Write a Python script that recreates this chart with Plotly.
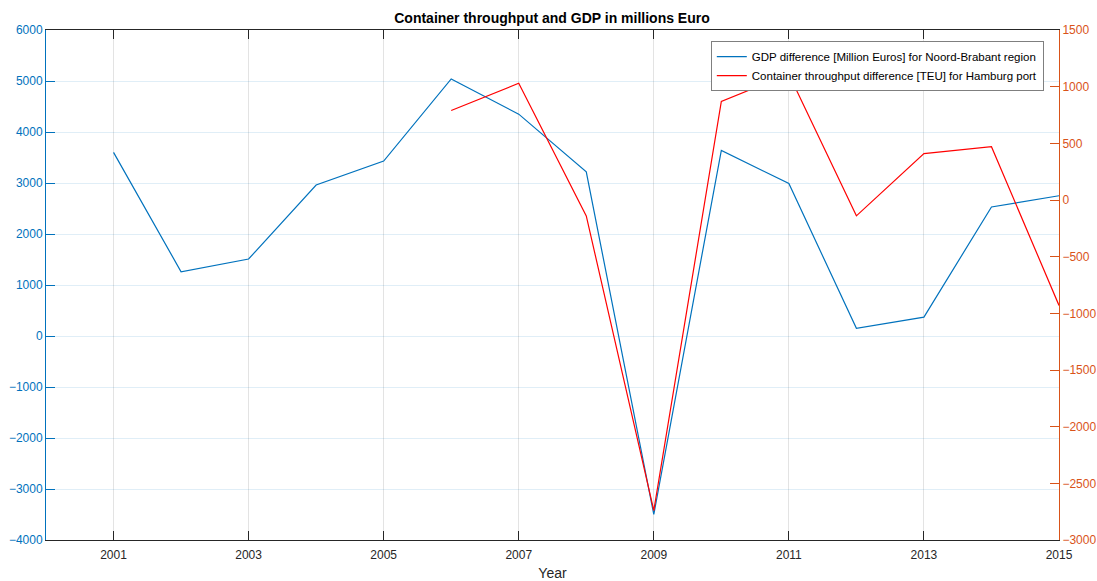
import plotly.graph_objects as go

years = [2001, 2002, 2003, 2004, 2005, 2006, 2007, 2008, 2009, 2010, 2011, 2012, 2013, 2014, 2015]
gdp_diff = [3600, 1260, 1510, 2960, 3430, 5040, 4350, 3220, -3500, 3640, 2990, 150, 370, 2530, 2750]

port_years = [2006, 2007, 2008, 2009, 2010, 2011, 2012, 2013, 2014, 2015]
teu_diff = [790, 1030, -140, -2740, 870, 1110, -140, 410, 470, -930]

x_ticks = [2001, 2003, 2005, 2007, 2009, 2011, 2013, 2015]
left_ticks = [-4000, -3000, -2000, -1000, 0, 1000, 2000, 3000, 4000, 5000, 6000]
right_ticks = [-3000, -2500, -2000, -1500, -1000, -500, 0, 500, 1000, 1500]

BLUE = "#0072BD"
ORANGE = "#D95319"
DARK = "#262626"
FONT = "Liberation Sans, Arial, sans-serif"

FIG_W, FIG_H = 1097, 581

fig = go.Figure()
fig.add_trace(go.Scatter(
    x=years, y=gdp_diff, mode="lines",
    name="GDP difference [Million Euros] for Noord-Brabant region",
    line=dict(color=BLUE, width=1.2), yaxis="y"))
fig.add_trace(go.Scatter(
    x=port_years, y=teu_diff, mode="lines",
    name="Container throughput difference [TEU] for Hamburg port",
    line=dict(color="#FF0000", width=1.2), yaxis="y2"))

fig.update_layout(
    width=FIG_W, height=FIG_H,
    margin=dict(l=46, r=38, t=30, b=41, autoexpand=False),
    paper_bgcolor="white", plot_bgcolor="white",
    font=dict(family=FONT, size=12, color=DARK),
    title=dict(text="<b>Container throughput and GDP in millions Euro</b>",
               x=552 / FIG_W, xanchor="center", y=1 - 18 / FIG_H, yanchor="middle",
               font=dict(size=14, color="black", family=FONT)),
    xaxis=dict(
        range=[2000, 2015], tickvals=x_ticks, ticktext=[str(v) for v in x_ticks],
        ticks="inside", ticklen=9, tickcolor=DARK, tickwidth=1,
        showline=True, linecolor=DARK, linewidth=1, mirror="ticks",
        showgrid=True, gridcolor="rgba(38,38,38,0.13)", gridwidth=1,
        zeroline=False, tickfont=dict(size=12, color=DARK), automargin=False,
        ticklabelstandoff=4,
        title=dict(text="Year", font=dict(size=14, color=DARK), standoff=10),
    ),
    yaxis=dict(
        range=[-4000, 6000], tickvals=left_ticks,
        ticks="inside", ticklen=9, tickcolor=BLUE, tickwidth=1,
        showline=True, linecolor=BLUE, linewidth=1,
        showgrid=True, gridcolor="rgba(0,114,189,0.12)", gridwidth=1,
        zeroline=False, tickfont=dict(size=12, color=BLUE), automargin=False,
    ),
    yaxis2=dict(
        range=[-3000, 1500], tickvals=right_ticks, overlaying="y", side="right",
        ticks="inside", ticklen=9, tickcolor=ORANGE, tickwidth=1,
        showline=True, linecolor=ORANGE, linewidth=1,
        showgrid=False, zeroline=False, tickfont=dict(size=12, color=ORANGE),
        automargin=False,
    ),
    legend=dict(
        x=0.985, y=0.978, xanchor="right", yanchor="top",
        bgcolor="white", bordercolor="#7f7f7f", borderwidth=1,
        font=dict(size=11.5, color="black", family=FONT),
        itemwidth=30, tracegroupgap=0,
    ),
    showlegend=True,
)

fig.write_html(
    "out.html",
    config={"displayModeBar": False},
    post_script="document.body.style.margin='0';document.documentElement.style.overflow='hidden';document.body.style.overflow='hidden';",
)
